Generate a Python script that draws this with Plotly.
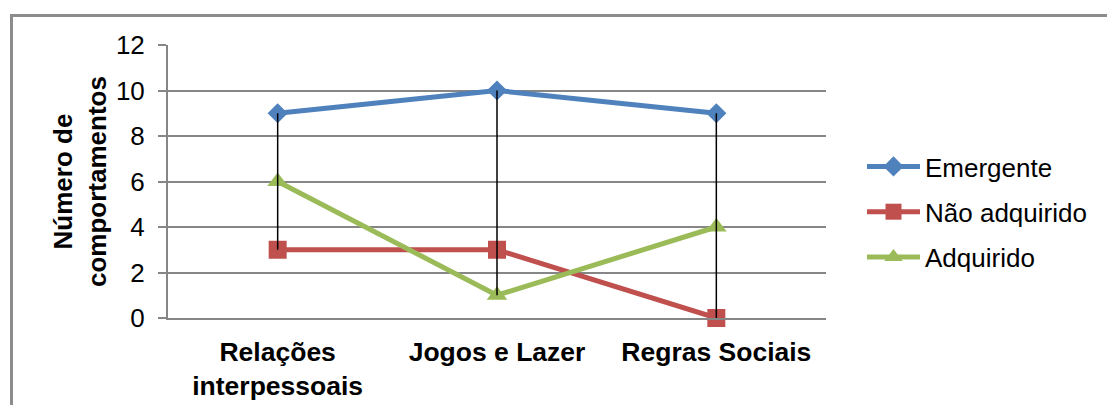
import plotly.graph_objects as go

categories = ["Relações<br>interpessoais", "Jogos e Lazer", "Regras Sociais"]
emergente = [9, 10, 9]
nao_adquirido = [3, 3, 0]
adquirido = [6, 1, 4]
y_ticks = [0, 2, 4, 6, 8, 10, 12]

series = [
    ("Emergente", emergente, "#4F81BD", "diamond", 15.5),
    ("Não adquirido", nao_adquirido, "#C0504D", "square", 18),
    ("Adquirido", adquirido, "#9BBB59", "triangle-up", 18),
]

FONT = "Liberation Sans, Arial, sans-serif"
W, H = 1107, 405
L, R, T, B = 168, 826, 45, 318

fig = go.Figure()
for i, (name, vals, color, sym, size) in enumerate(series):
    fig.add_trace(go.Scatter(
        x=categories, y=vals, name=name, mode="lines+markers",
        line=dict(color=color, width=5),
        marker=dict(symbol=sym, size=size, color=color),
        legendgroup=f"g{i}", cliponaxis=False,
    ))

# high-low lines joining the extremes of each category
for j, cat in enumerate(categories):
    vals = [emergente[j], nao_adquirido[j], adquirido[j]]
    fig.add_trace(go.Scatter(
        x=[cat, cat], y=[max(vals), min(vals)], mode="lines",
        line=dict(color="black", width=1.5), showlegend=False,
        hoverinfo="skip", cliponaxis=False,
    ))

def px_x(p):
    return (p - L) / (R - L)

def px_y(p):
    return (B - p) / (B - T)

# outer frame
fig.add_shape(type="rect", xref="paper", yref="paper",
              x0=px_x(11.5), x1=px_x(1130), y0=px_y(420), y1=px_y(15.5),
              line=dict(color="#8C8C8C", width=3), fillcolor="rgba(0,0,0,0)",
              layer="below")

fig.add_annotation(
    text="<b>Número de<br>comportamentos</b>", textangle=-90,
    xref="paper", yref="paper", x=px_x(80), y=px_y(182),
    showarrow=False, font=dict(family=FONT, size=26, color="black"),
    xanchor="center", yanchor="middle",
)

fig.update_layout(
    width=W, height=H,
    margin=dict(l=L, r=W - R, t=T, b=H - B, pad=0),
    paper_bgcolor="white", plot_bgcolor="white",
    font=dict(family=FONT, size=26, color="black"),
    showlegend=True,
    legend=dict(
        x=px_x(862), y=px_y(143), xanchor="left", yanchor="top",
        font=dict(family=FONT, size=26, color="black"),
        itemwidth=53, tracegroupgap=8.5, traceorder="grouped",
        bgcolor="rgba(0,0,0,0)",
    ),
    xaxis=dict(
        type="category", range=[-0.5, 2.5], automargin=False,
        showgrid=False, showline=True, linecolor="#868686", linewidth=2,
        ticks="", ticklabelstandoff=9,
        tickfont=dict(family=FONT, size=26.5, color="black", weight="bold"),
        zeroline=False, fixedrange=True,
    ),
    yaxis=dict(
        range=[0, 12], tickvals=y_ticks, ticktext=[str(v) for v in y_ticks],
        automargin=False,
        showgrid=True, gridcolor="#868686", gridwidth=2,
        showline=True, linecolor="#868686", linewidth=2,
        ticks="outside", ticklen=8, tickcolor="#868686", tickwidth=2,
        ticklabelstandoff=8,
        tickfont=dict(family=FONT, size=26, color="black"),
        zeroline=False, fixedrange=True,
    ),
)

fig.write_html("out.html")
